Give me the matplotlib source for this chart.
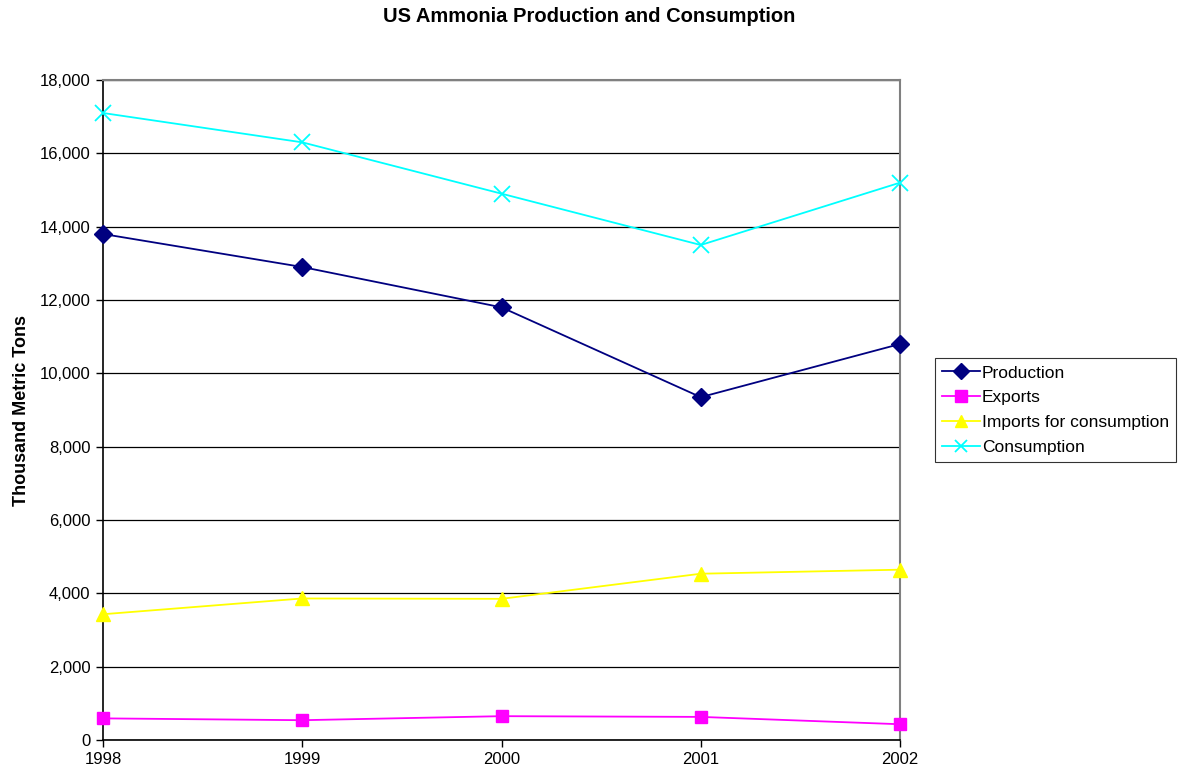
import numpy as np
import matplotlib.pyplot as plt

plt.rcParams['font.family'] = ['Liberation Sans', 'DejaVu Sans']

years = ['1998', '1999', '2000', '2001', '2002']
production = [13800, 12900, 11800, 9350, 10800]
exports = [590, 540, 650, 630, 430]
imports = [3430, 3860, 3850, 4535, 4645]
consumption = [17100, 16300, 14900, 13500, 15200]

fig = plt.figure(figsize=(11.78, 7.76), dpi=100)
ax = fig.add_axes([103 / 1178, 36 / 776, 797 / 1178, 660 / 776])

x = np.arange(len(years))
ax.plot(x, production, color='#000080', marker='D', ms=9, lw=1.3, label='Production', clip_on=False, zorder=4)
ax.plot(x, exports, color='#FF00FF', marker='s', ms=8.5, lw=1.3, label='Exports', clip_on=False, zorder=4)
ax.plot(x, imports, color='#FFFF00', marker='^', ms=10, lw=1.3, label='Imports for consumption', clip_on=False, zorder=4)
ax.plot(x, consumption, color='#00FFFF', marker='x', ms=11, mew=1.3, lw=1.3, label='Consumption', clip_on=False, zorder=4)

ax.set_xlim(0, 4)
ax.set_ylim(0, 18000)
ax.set_xticks(x)
ax.set_xticklabels(years)
ax.set_yticks(np.arange(0, 18001, 2000))
ax.set_yticklabels(['{:,}'.format(v) for v in range(0, 18001, 2000)])
ax.yaxis.grid(True, color='black', lw=0.9)
ax.set_axisbelow(True)
ax.tick_params(labelsize=12, direction='out', length=5, width=1, pad=4)

for s in ['top', 'right']:
    ax.spines[s].set_color('#808080')
    ax.spines[s].set_linewidth(1.5)
for s in ['left', 'bottom']:
    ax.spines[s].set_color('black')
    ax.spines[s].set_linewidth(1.2)

ax.set_ylabel('Thousand Metric Tons', fontsize=13, fontweight='bold', labelpad=7)
fig.text(0.5, 1 - 17 / 776, 'US Ammonia Production and Consumption', ha='center', va='center',
         fontsize=14.5, fontweight='bold')

leg = ax.legend(loc='center left', bbox_to_anchor=(935 / 1178, 1 - 410 / 776),
                bbox_transform=fig.transFigure, fontsize=12.5, frameon=True,
                fancybox=False, edgecolor='black', handlelength=2.2,
                handletextpad=0.1, borderpad=0.4, labelspacing=0.55, borderaxespad=0)
leg.get_frame().set_linewidth(0.8)
for h in leg.legend_handles:
    h.set_markersize(8)

fig.savefig('out.png', dpi=100)
